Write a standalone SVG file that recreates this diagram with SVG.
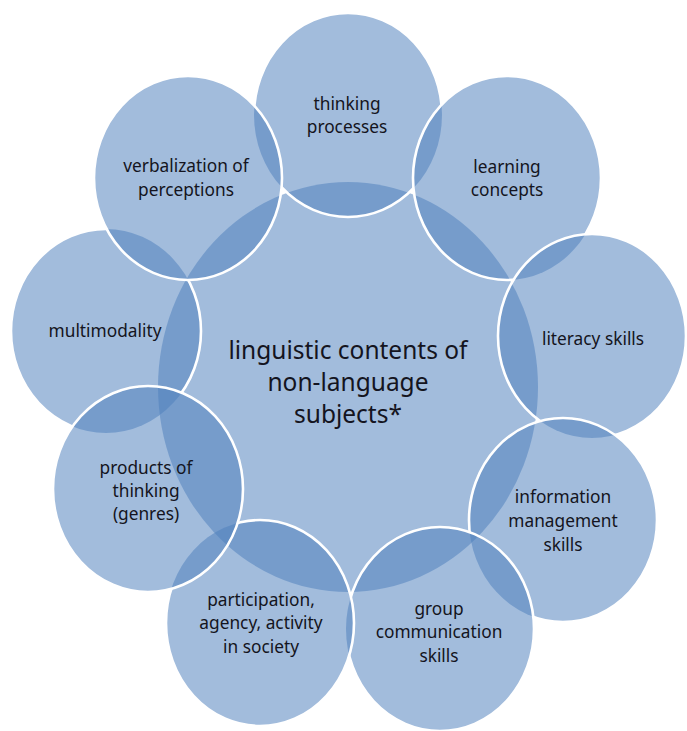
<svg xmlns="http://www.w3.org/2000/svg" xmlns:xlink="http://www.w3.org/1999/xlink" width="687" height="731" viewBox="0 0 687 731">
<style>
.fill{fill:#4F81BD;fill-opacity:0.53;stroke:none}
.edge{fill:none;stroke:#ffffff;stroke-width:2.6}
.lbl{font-family:"Noto Sans","Open Sans",sans-serif;font-size:17.3px;fill:#141420;text-anchor:middle}
.big{font-family:"Noto Sans","Open Sans",sans-serif;font-size:24.5px;fill:#141420;text-anchor:middle}
</style>
<defs>
<ellipse id="eC" cx="348" cy="387" rx="190" ry="205"/>
<ellipse id="eT" cx="348" cy="115" rx="94" ry="102"/>
<ellipse id="eL" cx="507" cy="178" rx="94" ry="102"/>
<ellipse id="eLit" cx="592" cy="336" rx="94" ry="102"/>
<ellipse id="eI" cx="563" cy="520" rx="94" ry="102"/>
<ellipse id="eG" cx="440" cy="629" rx="94" ry="102"/>
<ellipse id="eP" cx="260" cy="623" rx="94" ry="103"/>
<ellipse id="eM" cx="106" cy="331" rx="95" ry="102"/>
<ellipse id="ePr" cx="148" cy="489" rx="95" ry="103"/>
<ellipse id="eV" cx="188" cy="178" rx="94" ry="102"/>
<mask id="mT" maskUnits="userSpaceOnUse" x="0" y="0" width="687" height="731">
<rect width="687" height="731" fill="#fff"/>
<use href="#eL" fill="#000"/><use href="#eLit" fill="#000"/><use href="#eI" fill="#000"/><use href="#eG" fill="#000"/><use href="#eP" fill="#000"/><use href="#eM" fill="#000"/><use href="#ePr" fill="#000"/><use href="#eV" fill="#000"/>
</mask>
<mask id="mL" maskUnits="userSpaceOnUse" x="0" y="0" width="687" height="731">
<rect width="687" height="731" fill="#fff"/>
<use href="#eLit" fill="#000"/><use href="#eI" fill="#000"/><use href="#eG" fill="#000"/><use href="#eP" fill="#000"/><use href="#eM" fill="#000"/><use href="#ePr" fill="#000"/><use href="#eV" fill="#000"/>
</mask>
<mask id="mLit" maskUnits="userSpaceOnUse" x="0" y="0" width="687" height="731">
<rect width="687" height="731" fill="#fff"/>
<use href="#eI" fill="#000"/><use href="#eG" fill="#000"/><use href="#eP" fill="#000"/><use href="#eM" fill="#000"/><use href="#ePr" fill="#000"/><use href="#eV" fill="#000"/>
</mask>
<mask id="mI" maskUnits="userSpaceOnUse" x="0" y="0" width="687" height="731">
<rect width="687" height="731" fill="#fff"/>
<use href="#eG" fill="#000"/><use href="#eP" fill="#000"/><use href="#eM" fill="#000"/><use href="#ePr" fill="#000"/><use href="#eV" fill="#000"/>
</mask>
<mask id="mG" maskUnits="userSpaceOnUse" x="0" y="0" width="687" height="731">
<rect width="687" height="731" fill="#fff"/>
<use href="#eP" fill="#000"/><use href="#eM" fill="#000"/><use href="#ePr" fill="#000"/><use href="#eV" fill="#000"/>
</mask>
<mask id="mP" maskUnits="userSpaceOnUse" x="0" y="0" width="687" height="731">
<rect width="687" height="731" fill="#fff"/>
<use href="#eM" fill="#000"/><use href="#ePr" fill="#000"/><use href="#eV" fill="#000"/>
</mask>
<mask id="mM" maskUnits="userSpaceOnUse" x="0" y="0" width="687" height="731">
<rect width="687" height="731" fill="#fff"/>
<use href="#ePr" fill="#000"/><use href="#eV" fill="#000"/>
</mask>
<mask id="mPr" maskUnits="userSpaceOnUse" x="0" y="0" width="687" height="731">
<rect width="687" height="731" fill="#fff"/>
<use href="#eV" fill="#000"/>
</mask>
</defs>
<rect width="687" height="731" fill="#ffffff"/>
<g id="connectors"/>
<g id="node-center">
<use href="#eC" class="fill"/>
<text class="big" x="348" y="359">linguistic contents of</text>
<text class="big" x="348" y="391">non-language</text>
<text class="big" x="348" y="423">subjects*</text>
</g>
<g id="node-thinking">
<use href="#eT" class="fill"/>
<use href="#eT" class="edge" mask="url(#mT)"/>
<text class="lbl" x="347" y="110">thinking</text>
<text class="lbl" x="347" y="133">processes</text>
</g>
<g id="node-learning">
<use href="#eL" class="fill"/>
<use href="#eL" class="edge" mask="url(#mL)"/>
<text class="lbl" x="507" y="173">learning</text>
<text class="lbl" x="507" y="196">concepts</text>
</g>
<g id="node-literacy">
<use href="#eLit" class="fill"/>
<use href="#eLit" class="edge" mask="url(#mLit)"/>
<text class="lbl" x="593" y="345">literacy skills</text>
</g>
<g id="node-information">
<use href="#eI" class="fill"/>
<use href="#eI" class="edge" mask="url(#mI)"/>
<text class="lbl" x="563" y="503">information</text>
<text class="lbl" x="563" y="527">management</text>
<text class="lbl" x="563" y="551">skills</text>
</g>
<g id="node-group">
<use href="#eG" class="fill"/>
<use href="#eG" class="edge" mask="url(#mG)"/>
<text class="lbl" x="439" y="615">group</text>
<text class="lbl" x="439" y="638">communication</text>
<text class="lbl" x="439" y="662">skills</text>
</g>
<g id="node-participation">
<use href="#eP" class="fill"/>
<use href="#eP" class="edge" mask="url(#mP)"/>
<text class="lbl" x="261" y="606">participation,</text>
<text class="lbl" x="261" y="629">agency, activity</text>
<text class="lbl" x="261" y="653">in society</text>
</g>
<g id="node-multimodality">
<use href="#eM" class="fill"/>
<use href="#eM" class="edge" mask="url(#mM)"/>
<text class="lbl" x="105" y="337">multimodality</text>
</g>
<g id="node-products">
<use href="#ePr" class="fill"/>
<use href="#ePr" class="edge" mask="url(#mPr)"/>
<text class="lbl" x="146" y="474">products of</text>
<text class="lbl" x="146" y="497">thinking</text>
<text class="lbl" x="146" y="520">(genres)</text>
</g>
<g id="node-verbalization">
<use href="#eV" class="fill"/>
<use href="#eV" class="edge"/>
<text class="lbl" x="186" y="172">verbalization of</text>
<text class="lbl" x="186" y="196">perceptions</text>
</g>
</svg>
